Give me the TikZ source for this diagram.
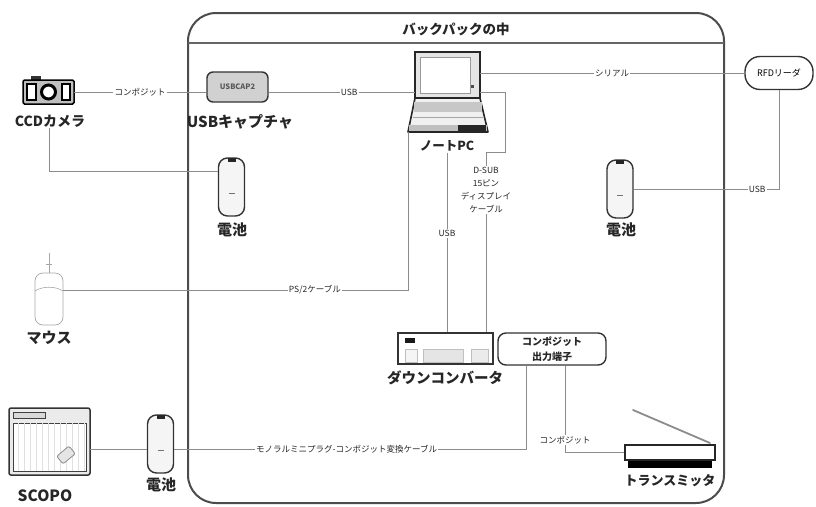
\documentclass[tikz,border=0pt]{standalone}
\usepackage{fontspec}
\setmainfont{Noto Sans CJK JP}
\usetikzlibrary{calc}
\begin{document}
\begin{tikzpicture}[x=1pt,y=-1pt,
  conn/.style={draw=black!45,line width=0.6pt},
  lbl/.style={font=\fontsize{8.5}{9.5}\selectfont,fill=white,inner sep=1.2pt,text=black!85},
  namelbl/.style={font=\bfseries\fontsize{13}{14}\selectfont,text=black!85,inner sep=1pt},
  outline/.style={draw=black!80,line width=1.4pt},
  battery/.style={outline,fill=black!4,rounded corners=9pt,minimum width=26pt,minimum height=58pt,inner sep=0pt},
  blank/.style={inner sep=0pt,outer sep=0pt}
]
\useasboundingbox (0,0) rectangle (816,506);

% backpack frame
\draw[line width=2pt,black!70,rounded corners=28pt] (188,13) rectangle (724,503);
\draw[line width=1.8pt,black!60] (188,43) -- (724,43);
\node[font=\bfseries\fontsize{13.5}{14}\selectfont,text=black!85] (title) at (456,29) {バックパックの中};

% CCD camera
\node[blank,minimum width=51pt,minimum height=24pt] (cam) at (48.5,92) {};
\fill[black!80] (31,76) rectangle (41,80);
\draw[line width=1.5pt,fill=black!25,rounded corners=1.5pt] (23,80) rectangle (74,104);
\draw[line width=1.2pt,fill=white] (27,84) rectangle (36,100);
\draw[line width=1.2pt,fill=white] (62,84) rectangle (70,100);
\draw[line width=3pt,fill=white] (48.5,92) circle (7);
\node[namelbl,font=\bfseries\fontsize{14}{15}\selectfont] (camlbl) at (50,121) {CCDカメラ};

% USB capture unit
\node[outline,fill=black!18,rounded corners=6pt,minimum width=61pt,minimum height=30pt,inner sep=0pt,
      font=\bfseries\fontsize{7.5}{8}\selectfont,text=black!65] (usbcap) at (237.5,87) {USBCAP2};
\node[namelbl,font=\bfseries\fontsize{15}{16}\selectfont] (usbcaplbl) at (240,122) {USBキャプチャ};

% notebook PC
\node[blank,minimum width=65pt,minimum height=46pt] (pc) at (447.5,75) {};
\draw[line width=1.6pt,black!85,fill=black!10] (415,52) rectangle (480,98);
\draw[line width=0.6pt,black!40,fill=white] (420,57) rectangle (470,93);
\fill[black!70] (471,85) rectangle (474,88);
\draw[line width=1.6pt,black!85,fill=black!6,line join=round] (415,98) -- (480,98) -- (488,132) -- (408,132) -- cycle;
\fill[black!22] (414,102) rectangle (482,112);
\draw[black!35,line width=0.5pt] (413,117) -- (483,117);
\fill[black!25] (409,125) rectangle (487,131);
\fill[black!85] (458,125) rectangle (486,131);
\coordinate (pcbl) at (408,132);
\node[namelbl,font=\bfseries\fontsize{12.5}{14}\selectfont] (pclbl) at (447,146) {ノートPC};

% RFD reader
\node[outline,rounded corners=15pt,minimum width=68pt,minimum height=33pt,inner sep=0pt,
      font=\fontsize{9}{10}\selectfont] (rfd) at (779,73) {RFDリーダ};

% batteries
\foreach \n/\x/\y in {bL/231.5/187, bR/620/189, bB/160.5/444}{
  \node[battery] (\n) at (\x,\y) {};
  \fill[black!85] ([xshift=-4pt,yshift=-1pt]\n.north) rectangle ([xshift=4pt,yshift=-5pt]\n.north);
  \draw[black!55,line width=0.8pt] ([xshift=-3pt,yshift=-6pt]\n.center) -- ([xshift=3pt,yshift=-6pt]\n.center);
}
\node[namelbl,font=\bfseries\fontsize{15}{16}\selectfont] (bLlbl) at (232,230) {電池};
\node[namelbl,font=\bfseries\fontsize{15}{16}\selectfont] (bRlbl) at (621,230) {電池};
\node[namelbl,font=\bfseries\fontsize{15}{16}\selectfont] (bBlbl) at (161,485) {電池};

% mouse
\node[blank,minimum width=28pt,minimum height=52pt] (mouse) at (49,299) {};
\draw[black!35,line width=0.7pt,rounded corners=8pt] (35,273) rectangle (63,325);
\draw[black!35,line width=0.6pt] (35,291) .. controls (42,286) and (56,286) .. (63,291);
\draw[black!35,line width=0.6pt] (49,253) -- (49,273);
\draw[black!35,line width=0.6pt] (46,264) -- (52,264);
\node[namelbl,font=\bfseries\fontsize{15}{16}\selectfont] (mouselbl) at (49,338) {マウス};

% down converter
\node[outline,fill=white,minimum width=95pt,minimum height=31pt,inner sep=0pt] (dc) at (445.5,348.5) {};
\fill[black!90] (405,338) rectangle (415,343);
\draw[black!25,line width=0.6pt,fill=black!4] (405,349) rectangle (417,362);
\draw[black!25,line width=0.6pt,fill=black!10] (423,349) rectangle (463,362);
\draw[black!25,line width=0.6pt,fill=black!8] (471,349) rectangle (488,362);
\node[namelbl,font=\bfseries\fontsize{14.5}{16}\selectfont] (dclbl) at (445,378) {ダウンコンバータ};

% composite output terminal
\node[outline,rounded corners=8pt,minimum width=108pt,minimum height=32pt,inner sep=0pt,align=center,
      font=\bfseries\fontsize{10}{15}\selectfont,text=black!85] (cout) at (552,349) {コンポジット\\出力端子};

% transmitter
\draw[black!45,line width=1.8pt,line cap=round] (633,410) -- (710,443);
\node[draw=black!85,line width=1.2pt,fill=white,minimum width=90pt,minimum height=15pt,inner sep=0pt] (tx) at (670,452.5) {};
\fill[black] (628,461) rectangle (712,468);
\node[namelbl] (txlbl) at (670,481) {トランスミッタ};

% SCOPO tablet
\node[blank,minimum width=81pt,minimum height=67pt] (scopo) at (49.5,441.5) {};
\draw[line width=1.5pt,black!80,fill=black!8,rounded corners=2pt] (9,408) rectangle (90,475);
\draw[line width=1pt,black!75,fill=white] (13,423) rectangle (86,471);
\draw[black!12,line width=0.4pt,step=6] (13,423) grid (86,471);
\draw[line width=1pt,black!75,fill=black!15] (13,412) rectangle (45,418);
\draw[black!45,line width=0.8pt,fill=black!10,rotate around={-50:(66,455)},rounded corners=2pt] (61,447) rectangle (71,463);
\node[namelbl,font=\bfseries\fontsize{15.5}{16}\selectfont] (scopolbl) at (45,496) {SCOPO};

% connections
\draw[conn] (cam.east) -- (usbcap.west |- cam.east) node[lbl,midway] {コンポジット};
\draw[conn] (usbcap.east |- cam.east) -- (pc.west |- cam.east) node[lbl,pos=0.55] {USB};
\draw[conn] (pc.east |- rfd.west) -- (rfd.west) node[lbl,pos=0.5] {シリアル};
\coordinate (dsubA) at (505,92);
\coordinate (dsubB) at (505,152);
\coordinate (dsubC) at (486,152);
\draw[conn] (pc.east |- cam.east) -- (dsubA) -- (dsubB) -- (dsubC) -- (dsubC |- dc.north);
\node[lbl,align=center,font=\fontsize{8.5}{13}\selectfont] (dsublbl) at (486,190) {D-SUB\\15ピン\\ディスプレイ\\ケーブル};
\draw[conn] (pclbl.south) -- (pclbl.south |- dc.north) node[lbl,pos=0.45] {USB};
\draw[conn] (pcbl) -- (pcbl |- 0,290) -- (mouse.east |- 0,290) node[lbl,pos=0.27] {PS/2ケーブル};
\draw[conn] (camlbl.south -| 49,0) |- ([yshift=16pt]bL.west);
\draw[conn] (rfd.south) |- (bR.east) node[lbl,pos=0.575] {USB};
\draw[conn] (cout.south -| 526,0) |- ([yshift=-5pt]bB.east) node[lbl,pos=0.755] {モノラルミニプラグ-コンポジット変換ケーブル};
\draw[conn] ([yshift=-5pt]bB.west) -- (scopo.east |- 0,449);
\draw[conn] (cout.south -| 565,0) |- (tx.west) node[lbl,pos=0.43] {コンポジット};
\end{tikzpicture}
\end{document}
